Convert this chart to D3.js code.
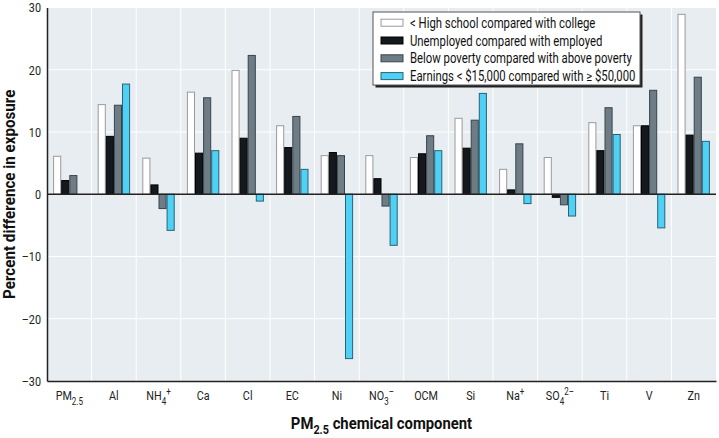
<!DOCTYPE html>
<html><head><meta charset="utf-8">
<script src="https://cdn.jsdelivr.net/npm/d3@7"></script>
<style>
body{margin:0;background:#fff;}
svg text{font-family:Roboto,"Liberation Sans",sans-serif;}
</style></head>
<body><svg id="c" width="719" height="438"></svg>
<script>
const categories = ["PM2.5","Al","NH4+","Ca","Cl","EC","Ni","NO3-","OCM","Si","Na+","SO42-","Ti","V","Zn"];
const seriesNames = ["< High school compared with college","Unemployed compared with employed","Below poverty compared with above poverty","Earnings < $15,000 compared with \u2265 $50,000"];
const highSchool = [6.1,14.4,5.8,16.4,19.9,11.0,6.2,6.2,5.9,12.2,4.0,5.9,11.5,11.0,28.9];
const unemployed = [2.2,9.3,1.5,6.6,9.0,7.5,6.7,2.5,6.5,7.4,0.7,-0.5,7.0,11.0,9.5];
const poverty    = [3.0,14.3,-2.3,15.5,22.3,12.5,6.2,-1.9,9.4,11.9,8.1,-1.7,13.9,16.7,18.8];
const earnings   = [0,17.7,-5.8,7.0,-1.1,4.0,-26.4,-8.2,7.0,16.2,-1.5,-3.5,9.6,-5.4,8.5];
const yTicks = [-30,-20,-10,0,10,20,30];

const series = [highSchool, unemployed, poverty, earnings];
const fills = ["#ffffff","#15191d","#6d7c85","#4fd1f5"];
const strokes = ["#9a9a9a","#000000","#39444a","#2b6275"];
const COND = 0.8;

const svg = d3.select("#c");
const m = {l:47, r:716, t:7.5, b:381};
const x = d3.scaleBand().domain(categories).range([m.l, m.r]);
const y = d3.scaleLinear().domain([-30,30]).range([m.b, m.t]);
const xi = d3.scaleBand().domain(d3.range(4)).range([0, 32.4]);

svg.append("rect").attr("x",m.l).attr("y",m.t).attr("width",m.r-m.l).attr("height",m.b-m.t).attr("fill","#e8edf1");
// grid
svg.append("g").selectAll("line").data(yTicks.filter(d=>d!==0&&d!==-30)).join("line")
  .attr("x1",m.l).attr("x2",m.r).attr("y1",d=>y(d)).attr("y2",d=>y(d)).attr("stroke","#fff").attr("stroke-width",1);
svg.append("g").selectAll("line").data(categories.slice(1)).join("line")
  .attr("x1",d=>x(d)).attr("x2",d=>x(d)).attr("y1",m.t).attr("y2",m.b).attr("stroke","#fff").attr("stroke-width",1);

// bars
const off = (x.bandwidth()-32.4)/2;
series.forEach((vals,si)=>{
  svg.append("g").selectAll("rect").data(vals.map((v,i)=>({v,c:categories[i]})).filter(d=>d.v!==0)).join("rect")
    .attr("x",d=>x(d.c)+off+xi(si)+0.5)
    .attr("width",xi.bandwidth()-1)
    .attr("y",d=>y(Math.max(0,d.v)))
    .attr("height",d=>Math.abs(y(d.v)-y(0)))
    .attr("fill",fills[si]).attr("stroke",strokes[si]).attr("stroke-width",1);
});

// zero line
svg.append("line").attr("x1",m.l).attr("x2",m.r).attr("y1",y(0)).attr("y2",y(0)).attr("stroke","#222").attr("stroke-width",1.3);

// axes
const ya = d3.axisLeft(y).tickValues(yTicks).tickSize(0).tickFormat(d=>d<0?"\u2013"+Math.abs(d):d);
const gy = svg.append("g").attr("transform",`translate(${m.l},0)`).call(ya);
gy.select(".domain").attr("stroke","#222").attr("stroke-width",1.5);
gy.selectAll(".tick text").attr("x",0).attr("transform",`translate(-6,0) scale(${COND},1)`)
  .attr("font-size",13.5).attr("fill","#222");

const xa = d3.axisBottom(x).tickSize(0).tickFormat("");
const gx = svg.append("g").attr("transform",`translate(0,${m.b})`).call(xa);
gx.select(".domain").attr("stroke","#222").attr("stroke-width",1.5);

// x labels with sub/superscripts
const labelParts = {
  "PM2.5":[["PM",""],["2.5","sub"]],
  "NH4+":[["NH",""],["4","sub"],["+","sup"]],
  "NO3-":[["NO",""],["3","sub"],["\u2013","sup"]],
  "Na+":[["Na",""],["+","sup"]],
  "SO42-":[["SO",""],["4","sub"],["2\u2013","sup"]]
};
const xl = svg.append("g");
categories.forEach(c=>{
  const g = xl.append("g").attr("transform",`translate(${x(c)+x.bandwidth()/2},400) scale(${COND},1)`);
  const t = g.append("text").attr("x",0).attr("y",0).attr("text-anchor","middle")
    .attr("font-size",13.5).attr("fill","#222");
  const parts = labelParts[c] || [[c,""]];
  let prev = 0;
  parts.forEach(([s,k])=>{
    const shift = k==="sub"?5:(k==="sup"?-5:0);
    t.append("tspan").attr("dy",shift-prev).attr("font-size",k?10:13.5).text(s);
    prev = shift;
  });
});

// axis titles
const xtg = svg.append("g").attr("transform",`translate(${(m.l+m.r)/2},429) scale(0.9,1)`);
const xt = xtg.append("text").attr("x",0).attr("y",0).attr("text-anchor","middle")
  .attr("font-size",16.5).attr("font-weight","bold").attr("fill","#111");
xt.append("tspan").text("PM");
xt.append("tspan").attr("dy",5).attr("font-size",12).text("2.5");
xt.append("tspan").attr("dy",-5).text(" chemical component");

svg.append("g").attr("transform",`translate(15,${(m.t+m.b)/2}) rotate(-90) scale(0.92,1)`)
  .append("text").attr("text-anchor","middle")
  .attr("font-size",16.5).attr("font-weight","bold").attr("fill","#111").text("Percent difference in exposure");

// legend
const lg = svg.append("g").attr("transform","translate(373,12)");
lg.append("rect").attr("x",2.5).attr("y",2.5).attr("width",267).attr("height",73).attr("fill","#222");
lg.append("rect").attr("x",0).attr("y",0).attr("width",267).attr("height",73).attr("fill","#fff").attr("stroke","#555").attr("stroke-width",1);
seriesNames.forEach((n,i)=>{
  const yy = 10.7 + i*17.8;
  lg.append("rect").attr("x",8).attr("y",yy-3.5).attr("width",22).attr("height",7).attr("fill",fills[i]).attr("stroke",strokes[i]);
  lg.append("g").attr("transform",`translate(37,${yy+5}) scale(0.81,1)`)
    .append("text").attr("x",0).attr("y",0).attr("font-size",14).attr("fill","#111").text(n);
});
</script></body></html>
